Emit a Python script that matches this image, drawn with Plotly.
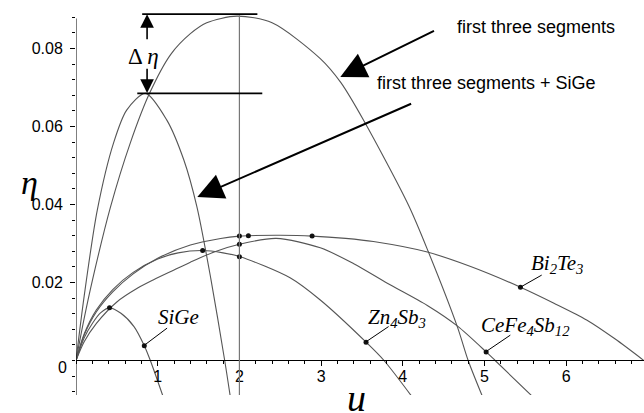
import plotly.graph_objects as go

# --- efficiency curves (u, eta) ---
u_three = [0, 0.1, 0.2, 0.42, 0.665, 0.90, 1.16, 1.40, 1.60, 1.97, 2.4, 2.99, 3.24, 3.52, 4.07, 4.31, 4.67, 4.80, 4.98]
eta_three = [0, 0.0108, 0.0205, 0.0392, 0.0558, 0.0685, 0.0785, 0.0838, 0.0866, 0.0883, 0.0866, 0.0774, 0.0713, 0.0616, 0.0398, 0.0280, 0.0085, 0.0, -0.0095]

u_sige_all = [0, 0.1, 0.26, 0.46, 0.62, 0.85, 1.11, 1.32, 1.48, 1.65, 1.82, 1.89]
eta_sige_all = [0, 0.0165, 0.0385, 0.0558, 0.0642, 0.0685, 0.0617, 0.0514, 0.0394, 0.0210, 0.0, -0.0095]

u_sige = [0, 0.1, 0.2, 0.3, 0.41, 0.55, 0.71, 0.836, 0.91, 1.07]
eta_sige = [0, 0.0058, 0.0095, 0.0122, 0.0135, 0.0121, 0.0087, 0.0038, 0.0, -0.0095]

u_zn = [0, 0.1, 0.25, 0.45, 0.7, 1.0, 1.25, 1.55, 1.8, 2.01, 2.62, 2.99, 3.55, 3.77, 4.12]
eta_zn = [0, 0.0068, 0.0130, 0.0182, 0.0226, 0.0260, 0.0276, 0.0282, 0.0276, 0.0266, 0.0212, 0.0155, 0.0047, 0.0, -0.0095]

u_cefe = [0, 0.1, 0.25, 0.5, 0.75, 0.95, 1.2, 1.4, 1.7, 2.0, 2.45, 2.99, 3.4, 3.81, 4.3, 4.67, 5.02, 5.13, 5.6]
eta_cefe = [0, 0.0048, 0.0095, 0.0150, 0.0185, 0.0207, 0.0232, 0.0252, 0.0279, 0.0298, 0.0313, 0.0289, 0.0248, 0.0198, 0.0141, 0.0088, 0.0022, 0.0, -0.0095]

u_bite = [0, 0.1, 0.25, 0.45, 0.7, 1.0, 1.4, 1.77, 2.0, 2.11, 2.5, 2.89, 3.3, 3.64, 4.3, 4.83, 5.44, 5.85, 6.25, 6.6, 6.95]
eta_bite = [0, 0.0065, 0.0125, 0.0176, 0.0222, 0.0262, 0.0296, 0.0313, 0.0319, 0.0320, 0.0321, 0.0319, 0.0313, 0.0305, 0.0278, 0.0241, 0.0188, 0.0147, 0.0104, 0.0055, 0.0]

# dots on the curves
dot_u = [0.41, 0.836, 1.55, 2.0, 2.0, 2.0, 2.11, 2.89, 3.55, 5.02, 5.44]
dot_eta = [0.0135, 0.0038, 0.0282, 0.0266, 0.0298, 0.0319, 0.0320, 0.0319, 0.0047, 0.0022, 0.0188]

# labels: (text, u, eta) and leader lines (u0, eta0, u1, eta1)
curve_labels = ['SiGe', 'Zn<sub>4</sub>Sb<sub>3</sub>', 'CeFe<sub>4</sub>Sb<sub>12</sub>', 'Bi<sub>2</sub>Te<sub>3</sub>']
label_u = [1.25, 3.93, 5.50, 5.89]
label_eta = [0.0112, 0.0109, 0.0089, 0.0247]
leaders = [(1.115, 0.0083, 0.836, 0.0039), (3.826, 0.0087, 3.55, 0.0048),
           (5.316, 0.0065, 5.02, 0.0023), (5.70, 0.0219, 5.44, 0.0188)]

x_ticks = [1, 2, 3, 4, 5, 6]
y_ticks = [0.02, 0.04, 0.06, 0.08]

xmin, xmax = 0, 6.952
ymin, ymax = -0.00885, 0.0891

curve_col = '#555555'
fig = go.Figure()
for uu, ee in [(u_three, eta_three), (u_sige_all, eta_sige_all), (u_sige, eta_sige),
               (u_zn, eta_zn), (u_cefe, eta_cefe), (u_bite, eta_bite)]:
    fig.add_trace(go.Scatter(x=uu, y=ee, mode='lines', line=dict(color=curve_col, width=1.1, shape='spline', smoothing=0.8),
                             showlegend=False, hoverinfo='skip'))

fig.add_trace(go.Scatter(x=dot_u, y=dot_eta, mode='markers', marker=dict(size=5, color='#111111'),
                         showlegend=False, hoverinfo='skip'))

shapes = []
# vertical line at u=2
shapes.append(dict(type='line', xref='x', yref='y', x0=2, x1=2, y0=ymin, y1=0.0885, line=dict(color='#777777', width=1.2)))
# y axis line
shapes.append(dict(type='line', xref='x', yref='y', x0=0, x1=0, y0=ymin, y1=0.0877, line=dict(color='black', width=1)))
# horizontal peak lines
shapes.append(dict(type='line', xref='x', yref='y', x0=0.81, x1=2.22, y0=0.0888, y1=0.0888, line=dict(color='black', width=1.8)))
shapes.append(dict(type='line', xref='x', yref='y', x0=0.75, x1=2.28, y0=0.0685, y1=0.0685, line=dict(color='black', width=1.8)))
for (a, b, c, d) in leaders:
    shapes.append(dict(type='line', xref='x', yref='y', x0=a, y0=b, x1=c, y1=d, line=dict(color='black', width=1)))

annotations = []
# delta eta arrows
annotations.append(dict(x=0.87, y=0.0888, ax=0.87, ay=0.0820, xref='x', yref='y', axref='x', ayref='y', text='',
                        showarrow=True, arrowhead=2, arrowsize=1.7, arrowwidth=1.6, arrowcolor='black', standoff=0))
annotations.append(dict(x=0.87, y=0.0686, ax=0.87, ay=0.0752, xref='x', yref='y', axref='x', ayref='y', text='',
                        showarrow=True, arrowhead=2, arrowsize=1.7, arrowwidth=1.6, arrowcolor='black', standoff=0))
annotations.append(dict(x=0.83, y=0.0779, xref='x', yref='y', text='Δ <i>η</i>', showarrow=False,
                        xanchor='center', yanchor='middle',
                        font=dict(family='Liberation Serif', size=23, color='black')))
# pointer arrows
annotations.append(dict(x=3.235, y=0.0727, ax=4.40, ay=0.0847, xref='x', yref='y', axref='x', ayref='y', text='',
                        showarrow=True, arrowhead=2, arrowsize=2.6, arrowwidth=2, arrowcolor='black', standoff=0))
annotations.append(dict(x=1.485, y=0.0419, ax=4.12, ay=0.0660, xref='x', yref='y', axref='x', ayref='y', text='',
                        showarrow=True, arrowhead=2, arrowsize=2.6, arrowwidth=2, arrowcolor='black', standoff=0))
annotations.append(dict(x=5.63, y=0.0855, xref='x', yref='y', text='first three segments', showarrow=False,
                        xanchor='center', yanchor='middle',
                        font=dict(family='Liberation Sans', size=18, color='black')))
annotations.append(dict(x=5.025, y=0.0712, xref='x', yref='y', text='first three segments + SiGe', showarrow=False,
                        xanchor='center', yanchor='middle',
                        font=dict(family='Liberation Sans', size=18, color='black')))
for t, uu, ee in zip(curve_labels, label_u, label_eta):
    annotations.append(dict(x=uu, y=ee, xref='x', yref='y', text='<i>' + t + '</i>', showarrow=False,
                            xanchor='center', yanchor='middle',
                            font=dict(family='Liberation Serif', size=21, color='black')))
# axis titles and the zero label
annotations.append(dict(x=-0.081, y=0.555, xref='paper', yref='paper', text='<i>η</i>', showarrow=False,
                        xanchor='center', yanchor='middle',
                        font=dict(family='Liberation Serif', size=34, color='black')))
annotations.append(dict(x=0.4947, y=-0.009, xref='paper', yref='paper', text='<i>u</i>', showarrow=False,
                        xanchor='center', yanchor='middle',
                        font=dict(family='Liberation Serif', size=38, color='black')))
annotations.append(dict(x=-0.0229, y=0.0707, xref='paper', yref='paper', text='0', showarrow=False,
                        xanchor='center', yanchor='middle',
                        font=dict(family='Liberation Sans', size=16, color='black')))

fig.update_layout(
    width=644, height=413,
    margin=dict(l=76, r=0, t=13, b=18, autoexpand=False),
    plot_bgcolor='white', paper_bgcolor='white',
    shapes=shapes, annotations=annotations,
    font=dict(family='Liberation Sans', size=16, color='black'),
)
fig.update_xaxes(range=[xmin, xmax], anchor='free', position=(0 - ymin) / (ymax - ymin), automargin=False,
                 showline=True, linecolor='black', linewidth=1, showgrid=False, zeroline=False,
                 tickvals=x_ticks, ticks='outside', ticklen=5, tickcolor='black', ticklabelstandoff=-4,
                 minor=dict(dtick=0.2, tick0=0, ticks='outside', ticklen=3, tickcolor='black'))
fig.update_yaxes(range=[ymin, ymax], showline=False, showgrid=False, zeroline=False, automargin=False,
                 tickvals=y_ticks, ticktext=['0.02', '0.04', '0.06', '0.08'], ticklabelstandoff=4,
                 ticks='outside', ticklen=5, tickcolor='black',
                 minor=dict(dtick=0.004, tick0=0, ticks='outside', ticklen=3, tickcolor='black'))

# the page body has a default 8px margin; remove it so the figure fills the window
fig.write_html("out.html", config={'displayModeBar': False},
               post_script="document.body.style.margin='0px';")
